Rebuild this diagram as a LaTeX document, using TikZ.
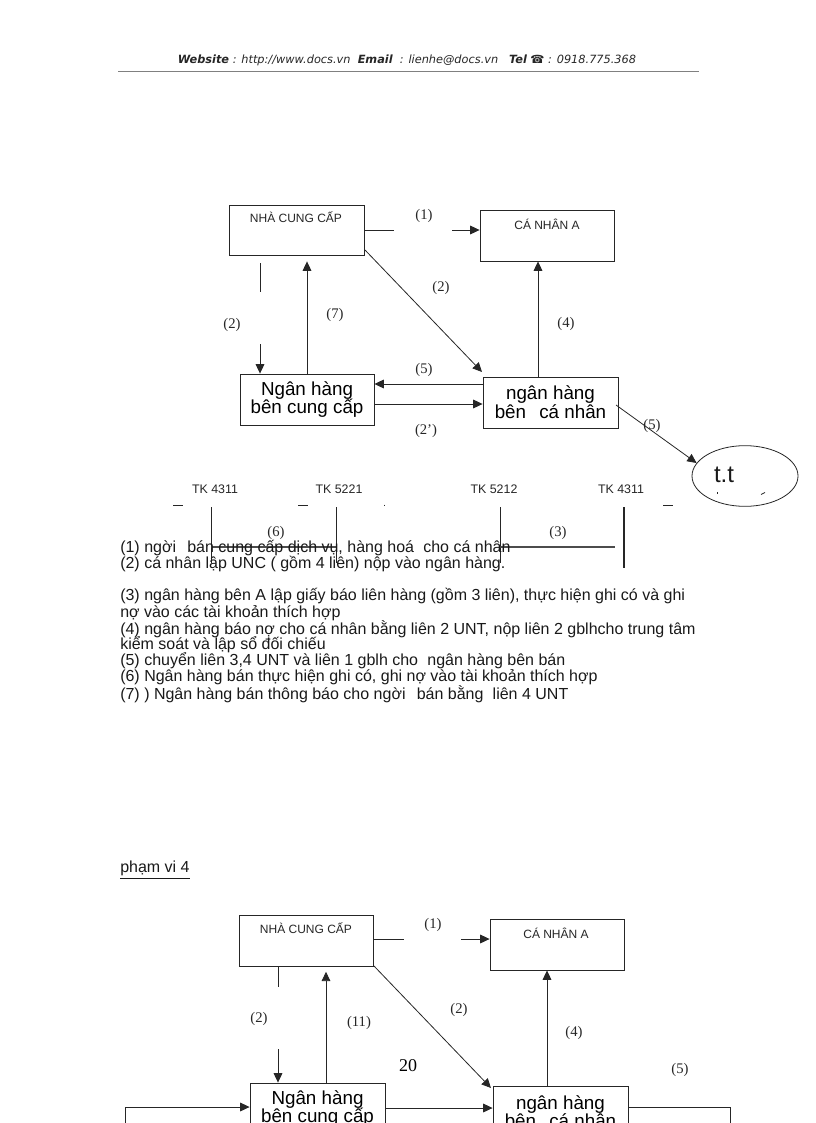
\documentclass[tikz,border=0pt]{standalone}
\usepackage{fontspec}
\setmainfont{Liberation Sans}
\newfontfamily\lblfont{Liberation Serif}
\newfontfamily\hdrfont{DejaVu Sans}
\usetikzlibrary{arrows.meta,shapes.geometric}
\tikzset{
  box/.style={draw=black!85,line width=0.65pt,fill=white,inner sep=0pt,align=center,font=\fontsize{14.1}{14}\selectfont},
  ln/.style={draw=black!85,line width=0.6pt},
  arr/.style={ln,-{Triangle[length=7pt,width=6.5pt]}},
  lbl/.style={font=\lblfont\fontsize{11}{12}\selectfont,text=black!85,inner sep=0pt,yshift=-1.2pt},
  boxcap/.style={font=\fontsize{9}{10}\selectfont,text=black!85,inner sep=0pt},
  tk/.style={font=\fontsize{9.3}{10}\selectfont,text=black!85,inner sep=0pt},
  txt/.style={anchor=west,font=\fontsize{12}{12}\selectfont,text=black!90,inner sep=0pt},
  hdr/.style={font=\hdrfont\itshape\fontsize{8.5}{10}\selectfont,text=black!85,inner sep=0pt},
}
\begin{document}
\begin{tikzpicture}[x=0.75pt,y=-0.75pt]
\useasboundingbox (0,0) rectangle (816,1123);
\clip (0,0) rectangle (816,1123);
% header
\node[hdr,anchor=center] (hd) at (407,60) {\textbf{Website} : http://www.docs.vn\ \ \textbf{Email}\ \ : lienhe@docs.vn\ \ \ \textbf{Tel} \textbf{☎} : 0918.775.368};
\coordinate (hl) at (118,71); \coordinate (hr) at (699,71);
\draw[draw=black!50,line width=0.6pt] (hl) -- (hr);

% --- upper diagram: boxes
\node[box,minimum width=101.25pt,minimum height=37.5pt] (a1) at (296.5,230) {};
\node[boxcap] (a1t) at (296,217) {NHÀ CUNG CẤP};
\node[box,minimum width=100.5pt,minimum height=38.25pt] (b1) at (547,235.5) {};
\node[boxcap] (b1t) at (547,224) {CÁ NHÂN A};
\node[box,minimum width=100.5pt,minimum height=38.25pt] (c1) at (307,399.5) {Ngân hàng\\bên cung cấp};
\node[box,minimum width=101.25pt,minimum height=38.25pt] (d1) at (550.5,402.5) {ngân hàng\\bên\hspace{0.7em}cá nhân};
\node[ellipse,draw=black!85,line width=0.6pt,minimum width=79.5pt,minimum height=45.5pt,inner sep=0pt] (e1) at (745,476) {};
\node[inner sep=0pt,font=\fontsize{18}{18}\selectfont,text=black!90] (e1t) at (724,475) {t.t};
\coordinate (e1m1) at (717,492); \coordinate (e1m2) at (717,494);
\coordinate (e1m3) at (761,494.5); \coordinate (e1m4) at (765,492.5);
\draw[ln] (e1m1) -- (e1m2); \draw[ln] (e1m3) -- (e1m4);

% connectors
\coordinate (p1) at (394,230); \coordinate (p2) at (452,230);
\draw[ln] (a1.east |- p1) -- (p1);
\draw[arr] (p2) -- (b1.west |- p2);
\coordinate (p3) at (260,263); \coordinate (p4) at (260,292); \coordinate (p5) at (260,344);
\draw[ln] (p3) -- (p4);
\draw[arr] (p5) -- (c1.north -| p5);
\coordinate (p6) at (307,300);
\draw[arr,shorten >=4.5pt] (c1.north -| p6) -- (a1.south -| p6);
\coordinate (p7) at (538,300);
\draw[arr] (d1.north -| p7) -- (b1.south -| p7);
\coordinate (p1a) at (365,250); \coordinate (p1b) at (482,372);
\draw[arr] (p1a) -- (p1b);
\coordinate (p8) at (420,384); \coordinate (p9) at (420,404);
\draw[arr] (d1.west |- p8) -- (c1.east |- p8);
\draw[arr] (c1.east |- p9) -- (d1.west |- p9);
\coordinate (p10) at (616,405);
\draw[arr] (p10) -- (e1.165);
% labels
\node[lbl] (l1) at (424,214) {(1)};
\node[lbl] (l2) at (441,286) {(2)};
\node[lbl] (l3) at (232,323) {(2)};
\node[lbl] (l4) at (335,313) {(7)};
\node[lbl] (l5) at (566,322) {(4)};
\node[lbl] (l6) at (424,368) {(5)};
\node[lbl] (l7) at (426,429) {(2’)};
\node[lbl] (l8) at (652,424) {(5)};

% T accounts
\node[tk] (t1) at (215,489) {TK 4311};
\node[tk] (t2) at (339,489) {TK 5221};
\node[tk] (t3) at (494,489) {TK 5212};
\node[tk] (t4) at (621,489) {TK 4311};
\coordinate (q1) at (173,505); \coordinate (q2) at (183,505);
\coordinate (q3) at (298,505); \coordinate (q4) at (308,505);
\coordinate (q5) at (663,505); \coordinate (q6) at (673,505);
\coordinate (q7) at (384,504.5); \coordinate (q8) at (384,506);
\draw[ln] (q1) -- (q2); \draw[ln] (q3) -- (q4); \draw[ln] (q5) -- (q6); \draw[ln] (q7) -- (q8);
\coordinate (v1) at (211,507); \coordinate (v1b) at (211,563);
\coordinate (v2) at (336,507); \coordinate (v2b) at (336,563);
\coordinate (v3) at (500,507); \coordinate (v3b) at (500,563);
\coordinate (v4) at (624,507); \coordinate (v4b) at (624,568);
\draw[ln] (v1) -- (v1b); \draw[ln] (v2) -- (v2b); \draw[ln] (v3) -- (v3b);
\draw[ln,line width=0.85pt] (v4) -- (v4b);
\coordinate (h1) at (211,547); \coordinate (h2) at (336,547);
\coordinate (h3) at (500,547); \coordinate (h4) at (615,547);
\draw[ln,line width=0.9pt,draw=black!70] (h1) -- (h2); \draw[ln,line width=0.9pt,draw=black!70] (h3) -- (h4);
\node[lbl] (l9) at (276,531) {(6)};
\node[lbl] (l10) at (558,531) {(3)};

% explanatory text
\node[txt] (x1) at (120,548) {(1) ngời\hspace{0.7em}bán cung cấp dịch vụ, hàng hoá\hspace{0.3em} cho cá nhân};
\node[txt] (x2) at (120,564) {(2) cá nhân lập UNC ( gồm 4 liên) nộp vào ngân hàng.};
\node[txt] (x3) at (120,596) {(3) ngân hàng bên A lập giấy báo liên hàng (gồm 3 liên), thực hiện ghi có và ghi};
\node[txt] (x4) at (120,613) {nợ vào các tài khoản thích hợp};
\node[txt] (x5) at (120,629) {(4) ngân hàng báo nợ cho cá nhân bằng liên 2 UNT, nộp liên 2 gblhcho trung tâm};
\node[txt] (x6) at (120,645) {kiểm soát và lập sổ đối chiếu};
\node[txt] (x7) at (120,661) {(5) chuyển liên 3,4 UNT và liên 1 gblh cho\hspace{0.3em} ngân hàng bên bán};
\node[txt] (x8) at (120,677) {(6) Ngân hàng bán thực hiện ghi có, ghi nợ vào tài khoản thích hợp};
\node[txt] (x9) at (120,694) {(7) ) Ngân hàng bán thông báo cho ngời\hspace{0.7em}bán bằng\hspace{0.3em} liên 4 UNT};
\node[txt] (x10) at (120,870) {\underline{phạm vi 4}};

% --- lower diagram
\node[box,minimum width=100.5pt,minimum height=38.25pt] (a2) at (306,940.5) {};
\node[boxcap] (a2t) at (306,928) {NHÀ CUNG CẤP};
\node[box,minimum width=100.5pt,minimum height=38.25pt] (b2) at (557,944.5) {};
\node[boxcap] (b2t) at (556,933) {CÁ NHÂN A};
\node[box,minimum width=101.25pt,minimum height=38.25pt] (c2) at (317.5,1108.5) {Ngân hàng\\bên cung cấp};
\node[box,minimum width=101.25pt,minimum height=38.25pt] (d2) at (560.5,1111.5) {ngân hàng\\bên\hspace{0.7em}cá nhân};
\coordinate (r1) at (404,939); \coordinate (r2) at (461,939);
\draw[ln] (a2.east |- r1) -- (r1);
\draw[arr] (r2) -- (b2.west |- r2);
\coordinate (r3) at (278,967); \coordinate (r4) at (278,987); \coordinate (r5) at (278,1049);
\draw[ln] (r3) -- (r4);
\draw[arr] (r5) -- (c2.north -| r5);
\coordinate (r6) at (326,1000);
\draw[arr,shorten >=4pt] (c2.north -| r6) -- (a2.south -| r6);
\coordinate (r7) at (547,1000);
\draw[arr] (d2.north -| r7) -- (b2.south -| r7);
\coordinate (r1a) at (374,966); \coordinate (r1b) at (491,1088);
\draw[arr] (r1a) -- (r1b);
\coordinate (r8) at (440,1108);
\draw[arr] (c2.east |- r8) -- (d2.west |- r8);
\coordinate (r9) at (730,1107); \coordinate (r10) at (730,1130);
\draw[ln] (d2.east |- r9) -- (r9) -- (r10);
\coordinate (r11) at (125,1130); \coordinate (r12) at (125,1107);
\draw[arr] (r11) -- (r12) -- (c2.west |- r12);
\node[lbl] (m1) at (433,923) {(1)};
\node[lbl] (m2) at (259,1017) {(2)};
\node[lbl] (m3) at (359,1021) {(11)};
\node[lbl] (m4) at (459,1008) {(2)};
\node[lbl] (m5) at (574,1031) {(4)};
\node[lbl] (m6) at (680,1068) {(5)};
\node[inner sep=0pt,font=\lblfont\fontsize{13.5}{14}\selectfont] (pg) at (408,1066) {20};
\end{tikzpicture}
\end{document}
